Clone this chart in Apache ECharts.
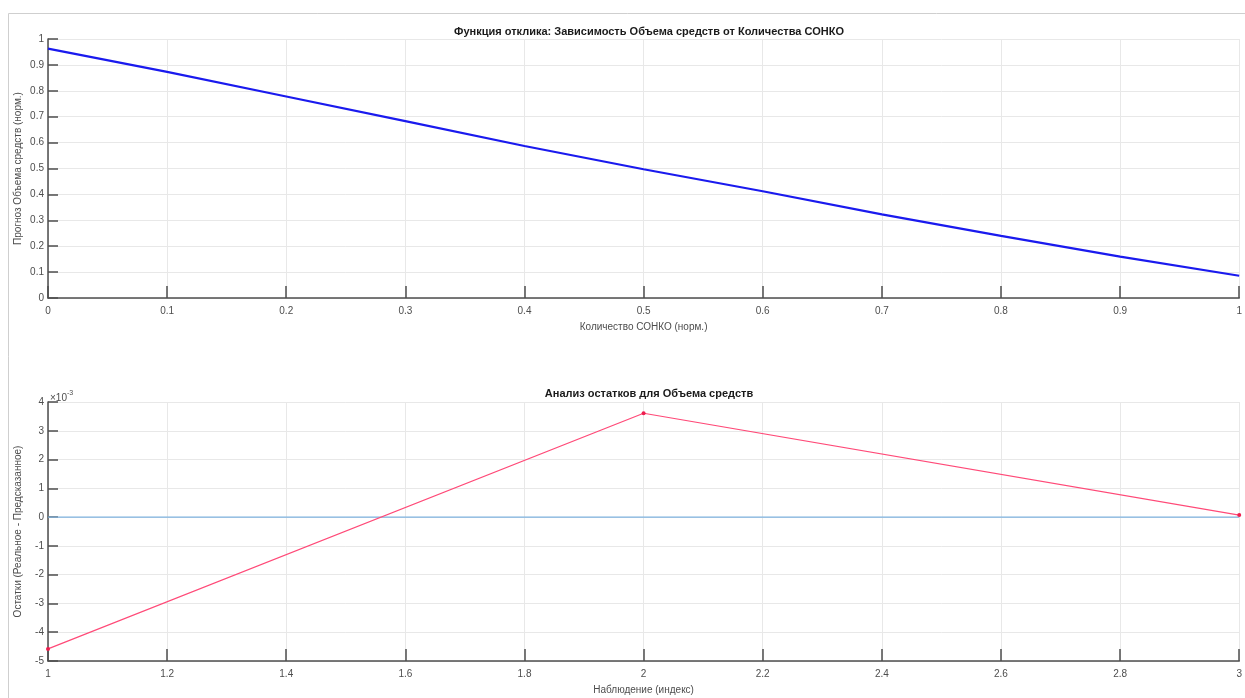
<!DOCTYPE html>
<html><head><meta charset="utf-8">
<script src="https://cdn.jsdelivr.net/npm/echarts@6/dist/echarts.min.js"></script>
<style>html,body{margin:0;padding:0;background:#fff}#c{width:1245px;height:698px}</style>
</head><body><div id="c"></div>
<script>
// Top plot: response function
const topX = [0, 0.1, 0.2, 0.3, 0.4, 0.5, 0.6, 0.7, 0.8, 0.9, 1.0];
const topY = [0.963, 0.873, 0.778, 0.683, 0.587, 0.497, 0.412, 0.323, 0.240, 0.160, 0.086];
// Bottom plot: residuals (units of 1e-3)
const resX = [1, 2, 3];
const resY = [-4.58, 3.61, 0.07];
const zeroLineX = [1, 3];
const zeroLineY = [0, 0];

const titleTop = 'Функция отклика: Зависимость Объема средств от Количества СОНКО';
const titleBottom = 'Анализ остатков для Объема средств';
const xNameTop = 'Количество СОНКО (норм.)';
const yNameTop = 'Прогноз Объема средств (норм.)';
const xNameBottom = 'Наблюдение (индекс)';
const yNameBottom = 'Остатки (Реальное - Предсказанное)';

const FONT = 'Liberation Sans, Arial, sans-serif';
const axisColor = '#4d4d4d';
const labelColor = '#4d4d4d';
const gridColor = '#e8e8e8';

function fmt(v){ return String(Math.round(v*1000)/1000); }

function xAxis(idx, min, max, interval, name){
  return {
    type:'value', gridIndex: idx, min, max, interval,
    name, nameLocation:'middle', nameGap: 24, nameMoveOverlap:false,
    nameTextStyle:{fontFamily:FONT, fontSize:10, color:labelColor},
    axisLine:{show:true, onZero:false, lineStyle:{color:axisColor, width:1.5}},
    axisTick:{show:true, inside:true, length:12, lineStyle:{color:axisColor, width:1.5}},
    axisLabel:{fontFamily:FONT, fontSize:10, color:labelColor, margin:8, formatter: fmt},
    splitLine:{show:true, lineStyle:{color:gridColor, width:1}}
  };
}
function yAxis(idx, min, max, interval, name){
  return {
    type:'value', gridIndex: idx, min, max, interval,
    name, nameLocation:'middle', nameGap: 25, nameMoveOverlap:false,
    nameTextStyle:{fontFamily:FONT, fontSize:10, color:labelColor},
    axisLine:{show:true, onZero:false, lineStyle:{color:axisColor, width:1.5}},
    axisTick:{show:true, inside:true, length:10, lineStyle:{color:axisColor, width:1.5}},
    axisLabel:{fontFamily:FONT, fontSize:10, color:labelColor, margin:4, formatter: fmt},
    splitLine:{show:true, lineStyle:{color:gridColor, width:1}}
  };
}

const chart = echarts.init(document.getElementById('c'), null, {renderer:'canvas'});
chart.setOption({
  animation:false,
  backgroundColor:'#ffffff',
  title:[
    {text:titleTop, left:644, top:21, textAlign:'center',
     textStyle:{fontFamily:FONT, fontSize:11, fontWeight:'bold', color:'#1a1a1a'}},
    {text:titleBottom, left:644, top:383, textAlign:'center',
     textStyle:{fontFamily:FONT, fontSize:11, fontWeight:'bold', color:'#1a1a1a'}}
  ],
  grid:[
    {left:48, top:39, width:1192, height:259},
    {left:48, top:402, width:1192, height:259}
  ],
  xAxis:[
    xAxis(0, 0, 1, 0.1, xNameTop),
    xAxis(1, 1, 3, 0.2, xNameBottom)
  ],
  yAxis:[
    yAxis(0, 0, 1, 0.1, yNameTop),
    yAxis(1, -5, 4, 1, yNameBottom)
  ],
  series:[
    {type:'line', xAxisIndex:0, yAxisIndex:0, data: topX.map((x,i)=>[x, topY[i]]),
     showSymbol:false, lineStyle:{color:'#1a1aee', width:2.2}},
    {type:'line', xAxisIndex:1, yAxisIndex:1, data: zeroLineX.map((x,i)=>[x, zeroLineY[i]]),
     showSymbol:false, lineStyle:{color:'#7fb3e0', width:1.2}, z:2},
    {type:'line', xAxisIndex:1, yAxisIndex:1, data: resX.map((x,i)=>[x, resY[i]]),
     symbol:'circle', symbolSize:4, showSymbol:true,
     itemStyle:{color:'#ee1e4e'}, lineStyle:{color:'#ff4a78', width:1.2}, z:3}
  ],
  graphic:[
    {type:'rect', shape:{x:8.5, y:13.5, width:1300, height:800}, silent:true,
     style:{fill:null, stroke:'#cfcfcf', lineWidth:1}, z:-10},
    {type:'text', left:50, top:390, silent:true,
     style:{text:'{a|×10}{b|-3}', rich:{
       a:{fontFamily:FONT, fontSize:10, fill:labelColor, verticalAlign:'bottom'},
       b:{fontFamily:FONT, fontSize:7, fill:labelColor, verticalAlign:'top', padding:[0,0,6,0]}
     }}}
  ]
});
</script></body></html>
